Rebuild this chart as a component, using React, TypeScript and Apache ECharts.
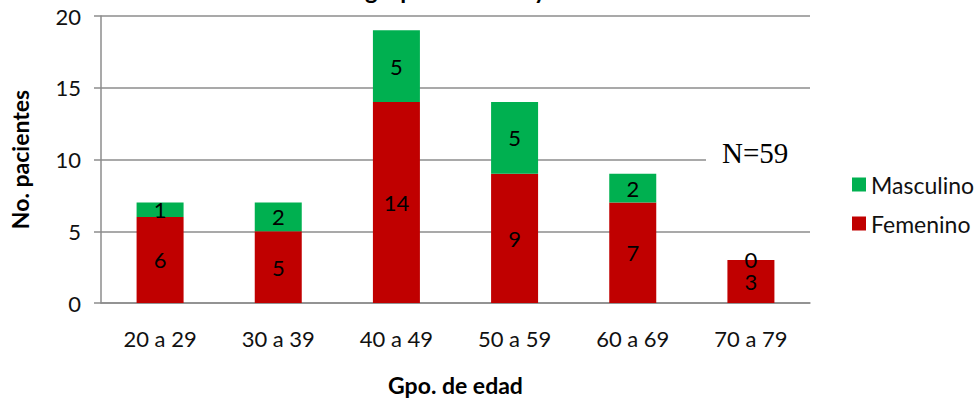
import React, { useEffect, useRef } from "react";
import * as echarts from "echarts";

// Age groups on the category axis
const ageGroups = ["20 a 29", "30 a 39", "40 a 49", "50 a 59", "60 a 69", "70 a 79"];
// Patient counts per age group
const femenino = [6, 5, 14, 9, 7, 3];
const masculino = [1, 2, 5, 5, 2, 0];
// Value axis ticks
const yMin = 0;
const yMax = 20;
const yStep = 5;
const totalLabel = "N=59";
const titleText = "grupos de edad y sexo";

const FONT = "Lato, 'Open Sans', sans-serif";
const RED = "#C00000";
const GREEN = "#00B050";
const GRID = "#8c8c8c";

export default function App() {
  const ref = useRef<HTMLDivElement>(null);

  useEffect(() => {
    document.body.style.margin = "0";
    if (!ref.current) return;
    const chart = echarts.init(ref.current, null, { renderer: "svg" });
    const labelStyle = {
      show: true,
      position: "inside" as const,
      color: "#000",
      fontFamily: FONT,
      fontSize: 22,
    };
    chart.setOption({
      animation: false,
      backgroundColor: "#fff",
      textStyle: { fontFamily: FONT },
      grid: { left: 100, right: 170, top: 16, bottom: 100, containLabel: false },
      legend: {
        orient: "vertical",
        left: 852,
        top: 173,
        padding: 0,
        itemWidth: 14,
        itemHeight: 14,
        itemGap: 16,
        icon: "rect",
        data: ["Masculino", "Femenino"],
        textStyle: { fontFamily: FONT, fontSize: 23, color: "#111" },
      },
      xAxis: {
        type: "category",
        data: ageGroups,
        name: "Gpo. de edad",
        nameLocation: "middle",
        nameGap: 70,
        nameTextStyle: { fontFamily: FONT, fontSize: 23, fontWeight: "bold", color: "#000" },
        axisLine: { show: true, lineStyle: { color: GRID, width: 1.5 } },
        axisTick: { show: false },
        axisLabel: { margin: 24, fontFamily: FONT, fontSize: 22, color: "#111" },
      },
      yAxis: {
        type: "value",
        min: yMin,
        max: yMax,
        interval: yStep,
        name: "No. pacientes",
        nameLocation: "middle",
        nameRotate: 90,
        nameGap: 70,
        nameTextStyle: { fontFamily: FONT, fontSize: 23, fontWeight: "bold", color: "#000" },
        axisLine: { show: true, lineStyle: { color: GRID, width: 1.5 } },
        axisTick: { show: true, length: 7, lineStyle: { color: GRID, width: 1.5 } },
        axisLabel: { margin: 20, fontFamily: FONT, fontSize: 22, color: "#111" },
        splitLine: { show: true, lineStyle: { color: GRID, width: 1.5 } },
      },
      series: [
        {
          name: "Femenino",
          type: "bar",
          stack: "total",
          data: femenino,
          barWidth: 47,
          itemStyle: { color: RED },
          label: labelStyle,
        },
        {
          name: "Masculino",
          type: "bar",
          stack: "total",
          data: masculino,
          barWidth: 47,
          itemStyle: { color: GREEN },
          label: labelStyle,
        },
      ],
      graphic: [
        {
          type: "text",
          left: 365,
          top: -23,
          style: {
            text: titleText,
            fontFamily: FONT,
            fontSize: 24,
            fontWeight: "bold",
            fill: "#000",
          },
        },
        {
          type: "rect",
          shape: { x: 706, y: 146, width: 106, height: 24 },
          style: { fill: "#fff" },
          z: 100,
        },
        {
          type: "text",
          x: 722,
          y: 153,
          z: 101,
          style: {
            text: totalLabel,
            fontFamily: "'Liberation Serif', 'DejaVu Serif', serif",
            fontSize: 29,
            fill: "#000",
            verticalAlign: "middle",
          },
        },
      ],
    });
    return () => chart.dispose();
  }, []);

  return <div ref={ref} style={{ width: 980, height: 403 }} />;
}
